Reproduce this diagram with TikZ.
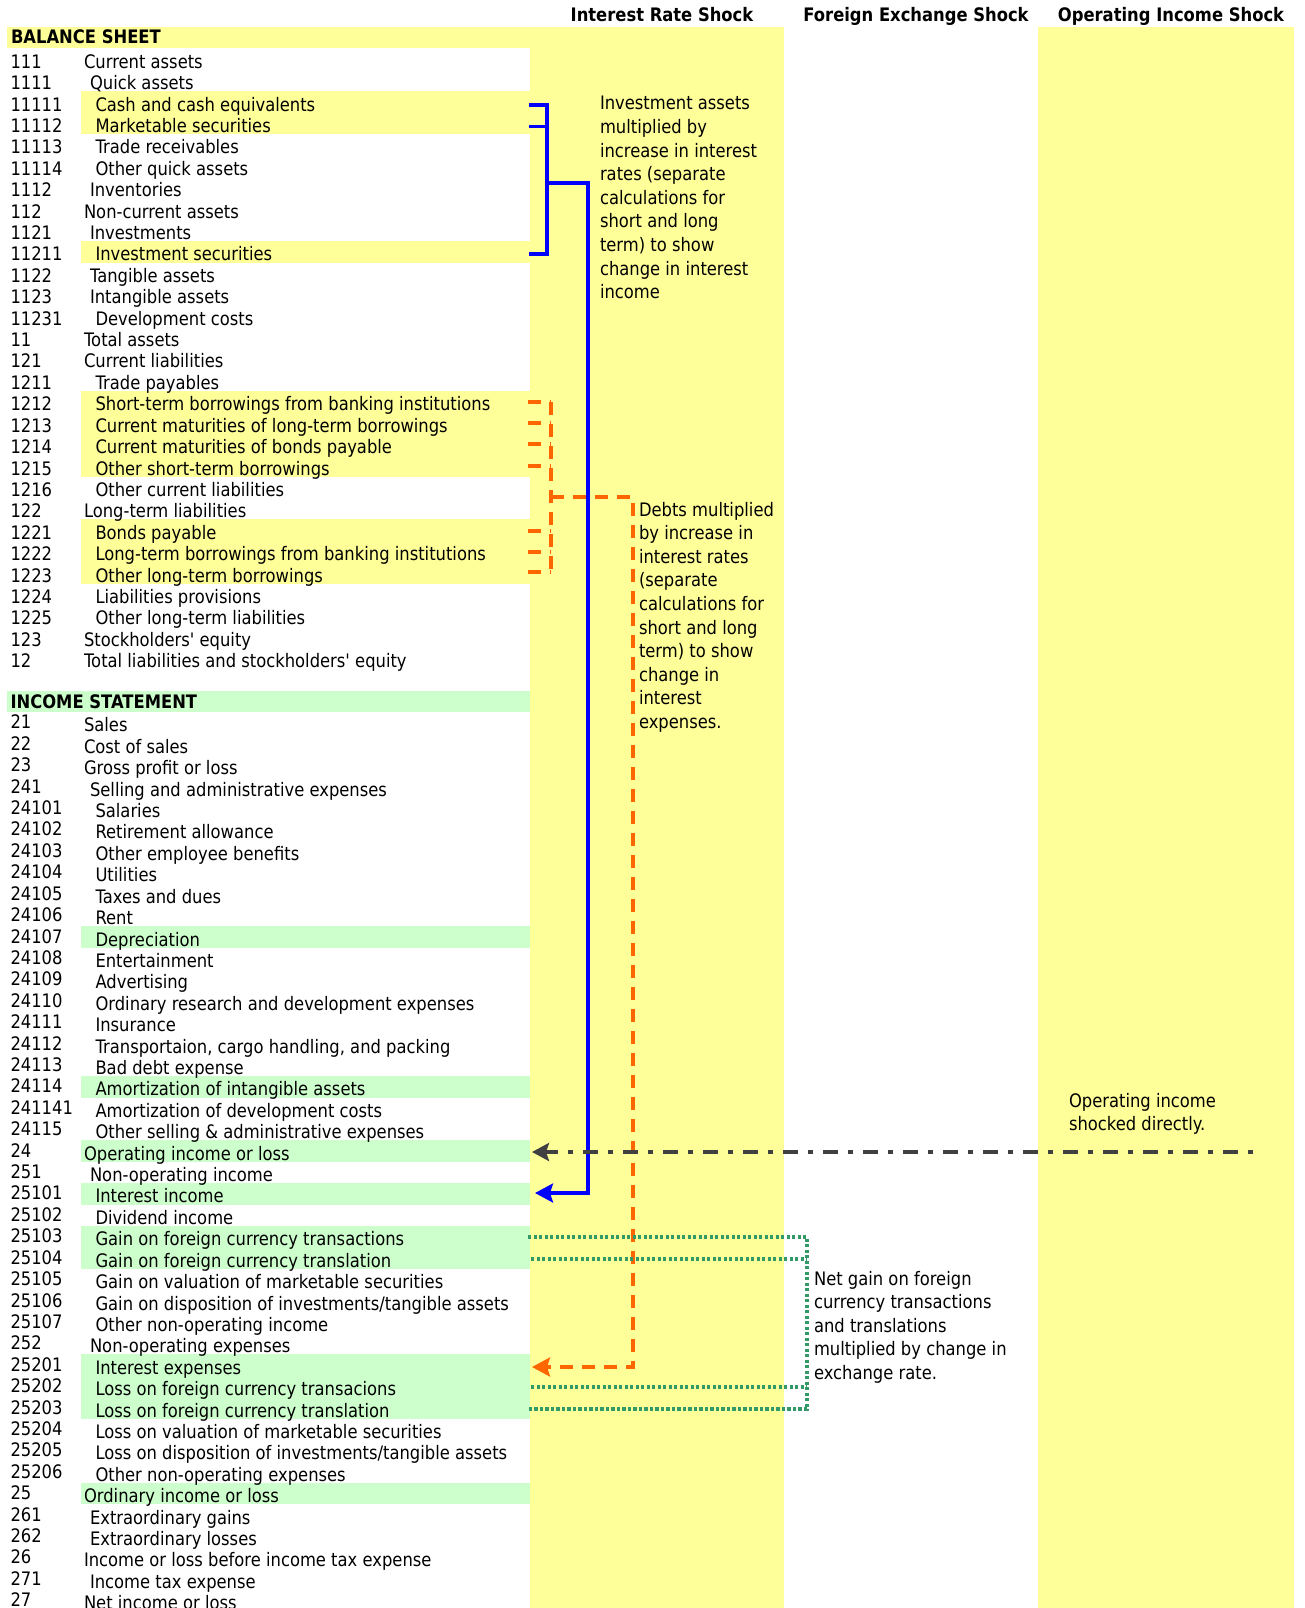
\documentclass[tikz,border=0pt]{standalone}
\usepackage{fontspec}
\newfontfamily\tah{DejaVu Sans}[FakeStretch=0.88]
\usetikzlibrary{arrows.meta}
\definecolor{ylw}{HTML}{FFFF99}
\definecolor{grn}{HTML}{CCFFCC}
\definecolor{bl}{HTML}{0000FF}
\definecolor{orng}{HTML}{FF6600}
\definecolor{sea}{HTML}{339966}
\definecolor{drk}{HTML}{404040}
\newcommand\rowtext[5]{%
  \pgfmathsetmacro\myrb{27+#1*21.41+19.8}%
  \pgfmathsetmacro\myrc{\myrb-#5}%
  \node[txt,anchor=base west] (code#1) at (10.5,\myrc) {#2};
  \node[txt,anchor=base west] (lab#1) at (#3,\myrb) {#4};
}
\newcommand\band[4]{\fill[#1] (#4,{27+#2*21.41}) rectangle (530,{27+(#3+1)*21.41});}
\newcommand\notetext[1]{\parbox[t]{320pt}{\tah\fontsize{18.6}{23.6}\selectfont\raggedright #1}}
\begin{document}
\begin{tikzpicture}[x=1pt,y=-1pt,
  txt/.style={inner sep=0pt,outer sep=0pt,font={\tah\fontsize{18.6}{23.6}\selectfont}},
  boldtxt/.style={inner sep=0pt,outer sep=0pt,font={\tah\bfseries\fontsize{18.6}{23.6}\selectfont}},
  blueln/.style={draw=bl,line width=3.2pt,line join=miter},
  orangeln/.style={draw=orng,line width=3.5pt,dash pattern=on 13pt off 9pt},
  greenln/.style={draw=sea,line width=3.2pt,dash pattern=on 3.2pt off 2.3pt},
  darkln/.style={draw=drk,line width=4.5pt,dash pattern=on 5pt off 10pt on 15pt off 10pt},
  tipb/.style={-{Stealth[length=18pt,width=19pt,inset=3pt]}}
]
\useasboundingbox (0,0) rectangle (1305,1608);
\clip (0,0) rectangle (1305,1608);
\fill[white] (0,0) rectangle (1305,1608);
% columns
\fill[ylw] (530,27) rectangle (784,1608);
\fill[ylw] (1038,27) rectangle (1294,1608);
% header bands
\fill[ylw] (7,27) rectangle (530,48.41);
\fill[grn] (7,690.71) rectangle (530,712.12);
% highlighted rows
\band{ylw}{3}{4}{81}
\band{ylw}{10}{10}{81}
\band{ylw}{17}{20}{81}
\band{ylw}{23}{25}{81}
\band{grn}{42}{42}{81}
\band{grn}{49}{49}{81}
\band{grn}{52}{52}{81}
\band{grn}{54}{54}{81}
\band{grn}{56}{57}{81}
\band{grn}{62}{64}{81}
\band{grn}{68}{68}{81}
% column headers
\node[boldtxt,anchor=base] (hIR) at (662,22) {Interest Rate Shock};
\node[boldtxt,anchor=base] (hFX) at (916,22) {Foreign Exchange Shock};
\node[boldtxt,anchor=base] (hOI) at (1171,22) {Operating Income Shock};
\node[boldtxt,anchor=base west] (hBS) at (11,44) {BALANCE SHEET};
\node[boldtxt,anchor=base west] (hIS) at (10.5,708.3) {INCOME STATEMENT};
% balance sheet rows
\rowtext{1}{111}{84}{Current assets}{0}
\rowtext{2}{1111}{90}{Quick assets}{0}
\rowtext{3}{11111}{95.5}{Cash and cash equivalents}{0}
\rowtext{4}{11112}{95.5}{Marketable securities}{0}
\rowtext{5}{11113}{95.5}{Trade receivables}{0}
\rowtext{6}{11114}{95.5}{Other quick assets}{0}
\rowtext{7}{1112}{90}{Inventories}{0}
\rowtext{8}{112}{84}{Non-current assets}{0}
\rowtext{9}{1121}{90}{Investments}{0}
\rowtext{10}{11211}{95.5}{Investment securities}{0}
\rowtext{11}{1122}{90}{Tangible assets}{0}
\rowtext{12}{1123}{90}{Intangible assets}{0}
\rowtext{13}{11231}{95.5}{Development costs}{0}
\rowtext{14}{11}{84}{Total assets}{0}
\rowtext{15}{121}{84}{Current liabilities}{0}
\rowtext{16}{1211}{95.5}{Trade payables}{0}
\rowtext{17}{1212}{95.5}{Short-term borrowings from banking institutions}{0}
\rowtext{18}{1213}{95.5}{Current maturities of long-term borrowings}{0}
\rowtext{19}{1214}{95.5}{Current maturities of bonds payable}{0}
\rowtext{20}{1215}{95.5}{Other short-term borrowings}{0}
\rowtext{21}{1216}{95.5}{Other current liabilities}{0}
\rowtext{22}{122}{84}{Long-term liabilities}{0}
\rowtext{23}{1221}{95.5}{Bonds payable}{0}
\rowtext{24}{1222}{95.5}{Long-term borrowings from banking institutions}{0}
\rowtext{25}{1223}{95.5}{Other long-term borrowings}{0}
\rowtext{26}{1224}{95.5}{Liabilities provisions}{0}
\rowtext{27}{1225}{95.5}{Other long-term liabilities}{0}
\rowtext{28}{123}{84}{Stockholders' equity}{0}
\rowtext{29}{12}{84}{Total liabilities and stockholders' equity}{0}
% income statement rows
\rowtext{32}{21}{84}{Sales}{3}
\rowtext{33}{22}{84}{Cost of sales}{3}
\rowtext{34}{23}{84}{Gross profit or loss}{3}
\rowtext{35}{241}{90}{Selling and administrative expenses}{3}
\rowtext{36}{24101}{95.5}{Salaries}{3}
\rowtext{37}{24102}{95.5}{Retirement allowance}{3}
\rowtext{38}{24103}{95.5}{Other employee benefits}{3}
\rowtext{39}{24104}{95.5}{Utilities}{3}
\rowtext{40}{24105}{95.5}{Taxes and dues}{3}
\rowtext{41}{24106}{95.5}{Rent}{3}
\rowtext{42}{24107}{95.5}{Depreciation}{3}
\rowtext{43}{24108}{95.5}{Entertainment}{3}
\rowtext{44}{24109}{95.5}{Advertising}{3}
\rowtext{45}{24110}{95.5}{Ordinary research and development expenses}{3}
\rowtext{46}{24111}{95.5}{Insurance}{3}
\rowtext{47}{24112}{95.5}{Transportaion, cargo handling, and packing}{3}
\rowtext{48}{24113}{95.5}{Bad debt expense}{3}
\rowtext{49}{24114}{95.5}{Amortization of intangible assets}{3}
\rowtext{50}{241141}{95.5}{Amortization of development costs}{3}
\rowtext{51}{24115}{95.5}{Other selling \& administrative expenses}{3}
\rowtext{52}{24}{84}{Operating income or loss}{3}
\rowtext{53}{251}{90}{Non-operating income}{3}
\rowtext{54}{25101}{95.5}{Interest income}{3}
\rowtext{55}{25102}{95.5}{Dividend income}{3}
\rowtext{56}{25103}{95.5}{Gain on foreign currency transactions}{3}
\rowtext{57}{25104}{95.5}{Gain on foreign currency translation}{3}
\rowtext{58}{25105}{95.5}{Gain on valuation of marketable securities}{3}
\rowtext{59}{25106}{95.5}{Gain on disposition of investments/tangible assets}{3}
\rowtext{60}{25107}{95.5}{Other non-operating income}{3}
\rowtext{61}{252}{90}{Non-operating expenses}{3}
\rowtext{62}{25201}{95.5}{Interest expenses}{3}
\rowtext{63}{25202}{95.5}{Loss on foreign currency transacions}{3}
\rowtext{64}{25203}{95.5}{Loss on foreign currency translation}{3}
\rowtext{65}{25204}{95.5}{Loss on valuation of marketable securities}{3}
\rowtext{66}{25205}{95.5}{Loss on disposition of investments/tangible assets}{3}
\rowtext{67}{25206}{95.5}{Other non-operating expenses}{3}
\rowtext{68}{25}{84}{Ordinary income or loss}{3}
\rowtext{69}{261}{90}{Extraordinary gains}{3}
\rowtext{70}{262}{90}{Extraordinary losses}{3}
\rowtext{71}{26}{84}{Income or loss before income tax expense}{3}
\rowtext{72}{271}{90}{Income tax expense}{3}
\rowtext{73}{27}{84}{Net income or loss}{3}
% annotations
\node[txt,anchor=base west] (noteInv) at (600,110) {\notetext{Investment assets\\multiplied by\\increase in interest\\rates (separate\\calculations for\\short and long\\term) to show\\change in interest\\income}};
\node[txt,anchor=base west] (noteDebt) at (639,516) {\notetext{Debts multiplied\\by increase in\\interest rates\\(separate\\calculations for\\short and long\\term) to show\\change in\\interest\\expenses.}};
\node[txt,anchor=base west] (noteOI) at (1069,1107) {\notetext{Operating income\\shocked directly.}};
\node[txt,anchor=base west] (noteFX) at (814,1285) {\notetext{Net gain on foreign\\currency transactions\\and translations\\multiplied by change in\\exchange rate.}};
% connector points
\coordinate (b3) at (529,105);
\coordinate (b4) at (529,126.5);
\coordinate (b10) at (529,254);
\coordinate (bjT) at (547,105);
\coordinate (bjB) at (547,254);
\coordinate (bjM) at (547,183);
\coordinate (bR) at (588,183);
\coordinate (bRd) at (588,1193);
\coordinate (bEnd) at (535,1193);
\draw[blueln] (b3) -- (bjT) -- (bjB) -- (b10);
\draw[blueln] (b4) -- (b4 -| bjT);
\draw[blueln,tipb] (bjM) -- (bR) -- (bRd) -- (bEnd);
% orange
\coordinate (o17) at (528,402);
\coordinate (o18) at (528,423);
\coordinate (o19) at (528,444);
\coordinate (o20) at (528,466);
\coordinate (o23) at (528,531);
\coordinate (o24) at (528,552);
\coordinate (o25) at (528,572);
\coordinate (ojT) at (551,402);
\coordinate (ojB) at (551,573);
\coordinate (ojM) at (551,497);
\coordinate (oR) at (633,497);
\coordinate (oRd) at (633,1367);
\coordinate (oEnd) at (532,1367);
\foreach \p in {o17,o18,o19,o20,o23,o24,o25} \draw[orangeln] (\p) -- (\p -| ojT);
\draw[orangeln] (ojT) -- (ojB);
\draw[orangeln,-{Stealth[length=18pt,width=19pt,inset=3pt,fill=orng]}] (ojM) -- (oR) -- (oRd) -- (oEnd);
% green
\coordinate (g56) at (528,1237);
\coordinate (g57) at (531,1259);
\coordinate (g63) at (531,1387);
\coordinate (g64) at (528,1409);
\coordinate (gR) at (807,1237);
\coordinate (gRb) at (807,1409);
\draw[greenln] (g56) -- (gR) -- (gRb) -- (g64);
\draw[greenln] (g57) -- (g57 -| gR);
\draw[greenln] (g63) -- (g63 -| gR);
% operating income shock
\coordinate (dStart) at (1253,1152);
\coordinate (dEnd) at (532,1152);
\draw[darkln,-{Stealth[length=17pt,width=18pt,inset=3pt]}] (dStart) -- (dEnd);
\end{tikzpicture}
\end{document}
